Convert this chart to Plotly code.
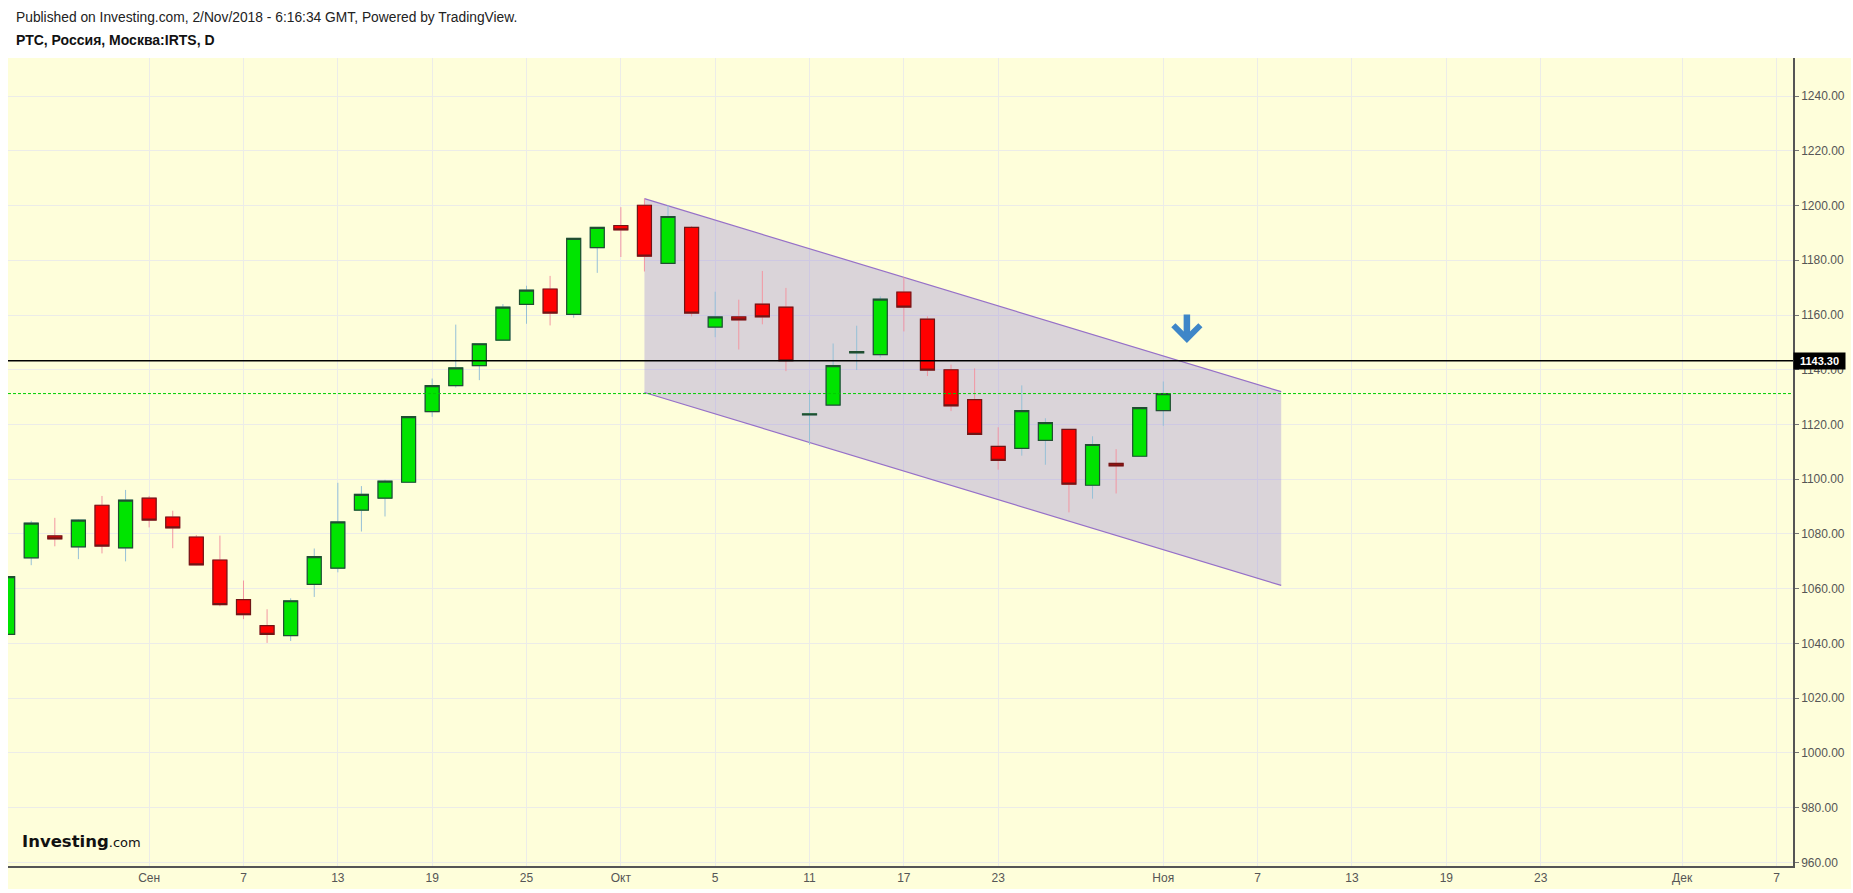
import numpy as np
import plotly.graph_objects as go

# ---------------- data ----------------
dates = ["2018-08-24", "2018-08-27", "2018-08-28", "2018-08-29", "2018-08-30", "2018-08-31",
         "2018-09-03", "2018-09-04", "2018-09-05", "2018-09-06", "2018-09-07",
         "2018-09-10", "2018-09-11", "2018-09-12", "2018-09-13", "2018-09-14",
         "2018-09-17", "2018-09-18", "2018-09-19", "2018-09-20", "2018-09-21",
         "2018-09-24", "2018-09-25", "2018-09-26", "2018-09-27", "2018-09-28",
         "2018-10-01", "2018-10-02", "2018-10-03", "2018-10-04", "2018-10-05",
         "2018-10-08", "2018-10-09", "2018-10-10", "2018-10-11", "2018-10-12",
         "2018-10-15", "2018-10-16", "2018-10-17", "2018-10-18", "2018-10-19",
         "2018-10-22", "2018-10-23", "2018-10-24", "2018-10-25", "2018-10-26",
         "2018-10-29", "2018-10-30", "2018-10-31", "2018-11-01"]
opens = [1043.3, 1071.3, 1079.3, 1075.3, 1090.5, 1074.9,
         1093.1, 1086.2, 1078.9, 1070.5, 1056.0,
         1046.5, 1042.9, 1061.6, 1067.5, 1088.7,
         1093.1, 1098.9, 1124.7, 1134.2, 1141.5,
         1150.8, 1163.9, 1169.5, 1160.2, 1184.6,
         1192.7, 1200.1, 1178.9, 1192.0, 1155.6,
         1159.3, 1164.0, 1162.9, 1123.5, 1127.1,
         1146.2, 1145.5, 1168.4, 1158.5, 1140.0,
         1129.1, 1112.0, 1111.3, 1114.2, 1118.2,
         1097.8, 1105.8, 1108.4, 1125.1]
highs = [1064.6, 1084.8, 1085.9, 1085.3, 1093.9, 1096.1,
         1093.9, 1088.5, 1079.6, 1079.4, 1063.0,
         1052.5, 1056.5, 1074.7, 1098.7, 1097.5,
         1099.8, 1123.0, 1136.8, 1156.5, 1149.6,
         1164.0, 1170.7, 1174.3, 1188.1, 1192.1,
         1199.4, 1202.5, 1200.1, 1192.5, 1168.5,
         1165.6, 1176.1, 1169.9, 1132.5, 1149.6,
         1156.1, 1166.8, 1173.8, 1159.5, 1141.9,
         1140.5, 1119.0, 1134.3, 1122.3, 1118.3,
         1115.7, 1111.0, 1126.3, 1135.7]
lows = [1043.0, 1068.6, 1075.5, 1070.8, 1072.9, 1070.0,
        1082.4, 1074.8, 1068.6, 1053.6, 1048.9,
        1040.2, 1040.9, 1057.0, 1066.0, 1080.9,
        1086.4, 1098.8, 1122.8, 1133.5, 1136.2,
        1150.7, 1156.8, 1156.2, 1159.0, 1175.4,
        1181.2, 1175.9, 1178.8, 1159.5, 1151.9,
        1147.4, 1156.6, 1139.5, 1112.6, 1127.0,
        1139.9, 1144.5, 1154.0, 1137.7, 1124.9,
        1116.3, 1103.5, 1108.6, 1105.3, 1087.9,
        1092.9, 1094.8, 1108.3, 1119.5]
closes = [1064.4, 1084.0, 1078.2, 1085.1, 1075.6, 1092.4,
          1085.1, 1082.2, 1068.7, 1054.2, 1050.5,
          1043.3, 1055.6, 1071.7, 1084.4, 1094.5,
          1099.3, 1122.9, 1134.2, 1140.7, 1149.5,
          1162.9, 1169.1, 1160.7, 1188.0, 1192.0,
          1191.1, 1181.5, 1196.0, 1160.7, 1159.3,
          1158.2, 1159.3, 1143.3, 1123.9, 1141.5,
          1146.6, 1165.8, 1162.9, 1139.9, 1126.8,
          1116.4, 1106.9, 1125.1, 1120.7, 1098.2,
          1112.7, 1104.9, 1126.2, 1131.3]

tick_dates = ["2018-09-03", "2018-09-07", "2018-09-13", "2018-09-19", "2018-09-25",
              "2018-10-01", "2018-10-05", "2018-10-11", "2018-10-17", "2018-10-23",
              "2018-11-01", "2018-11-07", "2018-11-13", "2018-11-19", "2018-11-23",
              "2018-12-03", "2018-12-07"]
tick_labels = ["Сен", "7", "13", "19", "25", "Окт", "5", "11", "17", "23",
               "Ноя", "7", "13", "19", "23", "Дек", "7"]
y_ticks = [960, 980, 1000, 1020, 1040, 1060, 1080, 1100, 1120, 1140, 1160, 1180, 1200, 1220, 1240]

hline_level = 1143.30
last_price = 1131.3

channel_dates = ["2018-10-02", "2018-11-08"]
channel_upper = [1202.5, 1132.0]
channel_lower = [1131.7, 1061.2]

arrow_date = "2018-11-02"
arrow_tip = 1149.8

origin = "2018-09-03"

# ---------------- helpers ----------------
W, H = 1853, 893
L, R, T, B = 8, 58, 58, 23
PW, PH = W - L - R, H - T - B


def bar_index(d):
    return int(np.busday_count(origin, d))


def px_x(px):
    return (px - L) / PW


def px_y(py):
    return (H - B - py) / PH


xs = [bar_index(d) for d in dates]
o = np.array(opens)
c = np.array(closes)

YELLOW = "rgb(254,254,218)"
GRID = "rgb(236,236,232)"
GREEN = "rgb(0,228,0)"
RED = "rgb(255,0,0)"

fig = go.Figure()

# wicks + bodies (light wick colours)
fig.add_trace(go.Candlestick(
    x=xs, open=opens, high=highs, low=lows, close=closes,
    increasing=dict(line=dict(color="rgb(150,192,215)", width=1), fillcolor=GREEN),
    decreasing=dict(line=dict(color="rgb(242,150,162)", width=1), fillcolor=RED),
    whiskerwidth=0, showlegend=False, hoverinfo="skip"))
# bodies with dark outline
fig.add_trace(go.Candlestick(
    x=xs, open=opens, high=np.maximum(o, c), low=np.minimum(o, c), close=closes,
    increasing=dict(line=dict(color="rgb(32,78,48)", width=1.2), fillcolor=GREEN),
    decreasing=dict(line=dict(color="rgb(112,22,22)", width=1.2), fillcolor=RED),
    whiskerwidth=0, showlegend=False, hoverinfo="skip"))

cx = [bar_index(d) for d in channel_dates]
channel_path = (f"M {cx[0]},{channel_upper[0]} L {cx[1]},{channel_upper[1]} "
                f"L {cx[1]},{channel_lower[1]} L {cx[0]},{channel_lower[0]} Z")

shapes = [
    # yellow chart panel
    dict(type="rect", xref="paper", yref="paper", x0=px_x(8), x1=px_x(W), y0=px_y(H), y1=px_y(58),
         fillcolor=YELLOW, line=dict(width=0), layer="below"),
    # channel
    dict(type="path", xref="x", yref="y", path=channel_path,
         fillcolor="rgba(135,115,215,0.30)", line=dict(width=0), layer="between"),
    dict(type="line", xref="x", yref="y", x0=cx[0], x1=cx[1], y0=channel_upper[0], y1=channel_upper[1],
         line=dict(color="rgb(150,112,200)", width=1.2), layer="between"),
    dict(type="line", xref="x", yref="y", x0=cx[0], x1=cx[1], y0=channel_lower[0], y1=channel_lower[1],
         line=dict(color="rgb(150,112,200)", width=1.2), layer="between"),
    # horizontal level
    dict(type="line", xref="paper", yref="y", x0=0, x1=1, y0=hline_level, y1=hline_level,
         line=dict(color="black", width=1.6), layer="above"),
    # last price
    dict(type="line", xref="paper", yref="y", x0=0, x1=1, y0=last_price, y1=last_price,
         line=dict(color="rgb(0,205,0)", width=1, dash="3px,2px"), layer="above"),
]

annotations = [
    dict(xref="paper", yref="paper", x=px_x(14), y=px_y(17), xanchor="left", yanchor="middle",
         text="Published on Investing.com, 2/Nov/2018 - 6:16:34 GMT, Powered by TradingView.",
         showarrow=False, font=dict(family="Liberation Sans, Arial", size=13.8, color="#222222")),
    dict(xref="paper", yref="paper", x=px_x(14), y=px_y(40), xanchor="left", yanchor="middle",
         text="<b>РТС, Россия, Москва:IRTS, D</b>",
         showarrow=False, font=dict(family="Liberation Sans, Arial", size=14, color="#111111")),
    dict(xref="paper", yref="y", x=1, y=hline_level, xanchor="left", yanchor="middle",
         text="<b>1143.30</b>", showarrow=False, bgcolor="black", borderpad=2, width=47,
         font=dict(family="Liberation Sans, Arial", size=11, color="white")),
    dict(xref="paper", yref="paper", x=px_x(20), y=px_y(857), xanchor="left", yanchor="bottom",
         text="<b>Investing</b><span style='font-size:13px'>.com</span>", showarrow=False,
         font=dict(family="DejaVu Sans, Liberation Sans", size=16.5, color="#111111")),
    dict(xref="x", yref="y", x=bar_index(arrow_date), y=arrow_tip, ax=0, ay=-30,
         text="", showarrow=True, arrowhead=4, arrowsize=0.8, arrowwidth=6.5,
         arrowcolor="rgb(62,134,200)"),
]

fig.update_layout(
    width=W, height=H, autosize=False,
    margin=dict(l=L, r=R, t=T, b=B, pad=0),
    paper_bgcolor="white", plot_bgcolor=YELLOW,
    showlegend=False, boxgap=0.15, boxgroupgap=0.3,
    shapes=shapes, annotations=annotations,
    xaxis=dict(range=[-5.985, 69.7], tickvals=[bar_index(d) for d in tick_dates], ticktext=tick_labels,
               showgrid=True, gridcolor=GRID, gridwidth=1, zeroline=False,
               showline=True, linecolor="#555555", linewidth=1.5, ticks="",
               tickfont=dict(family="Liberation Sans Narrow, Liberation Sans, Arial", size=12, color="#555555"),
               rangeslider=dict(visible=False), fixedrange=True),
    yaxis=dict(range=[958.7, 1253.9], side="right", tickvals=y_ticks, tickformat=".2f",
               showgrid=True, gridcolor=GRID, gridwidth=1, zeroline=False,
               showline=True, linecolor="#555555", linewidth=1.5,
               ticks="outside", ticklen=4, tickcolor="#777777",
               tickfont=dict(family="Liberation Sans, Arial", size=12, color="#555555"),
               fixedrange=True),
)

fig.write_html("out.html", config={"displayModeBar": False},
               post_script="document.body.style.margin='0px';")
